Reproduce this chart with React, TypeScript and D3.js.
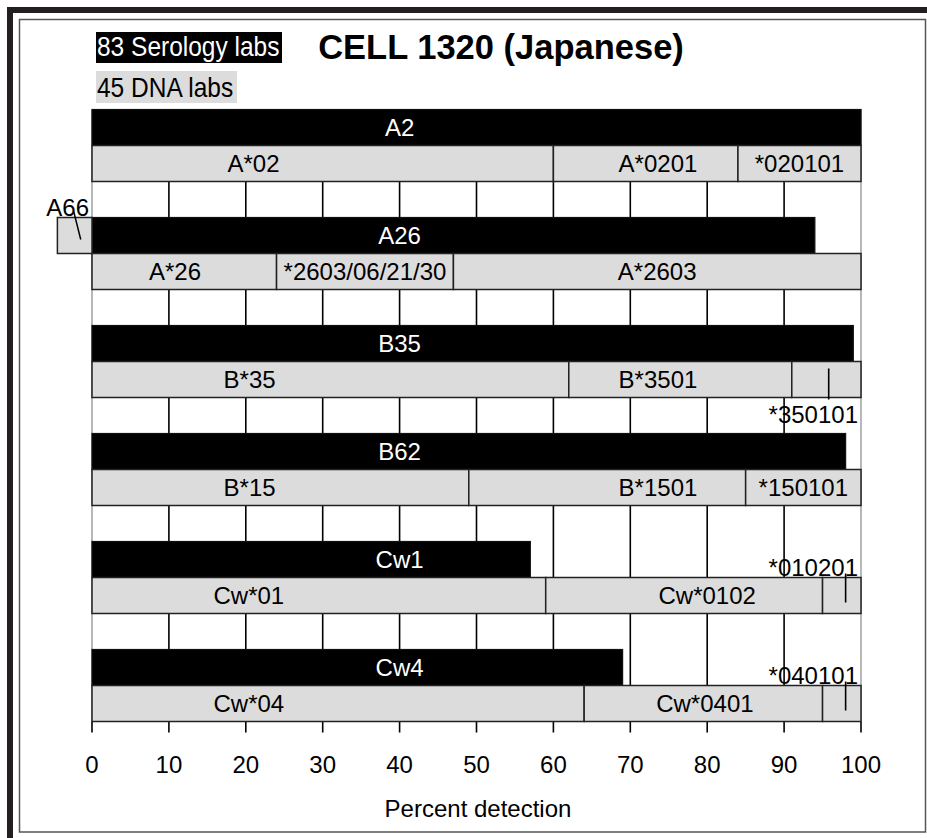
import React from "react";
import * as d3 from "d3";

// ---- data ----
const serologyNames = ["A2", "A26", "B35", "B62", "Cw1", "Cw4"];
const serologyPct = [100, 94, 99, 98, 57, 69];

const dnaLabels = [
  ["A*02", "A*0201", "*020101"],
  ["A*26", "*2603/06/21/30", "A*2603"],
  ["B*35", "B*3501", "*350101"],
  ["B*15", "B*1501", "*150101"],
  ["Cw*01", "Cw*0102", "*010201"],
  ["Cw*04", "Cw*0401", "*040101"],
];
const dnaPct = [
  [60, 24, 16],
  [24, 23, 53],
  [62, 29, 9],
  [49, 36, 15],
  [59, 36, 5],
  [64, 31, 5],
];

// extra serology result shown to the left (A66 on the A26 row)
const extraName = "A66";
const extraPct = 4.5;

const xTicks = [0, 10, 20, 30, 40, 50, 60, 70, 80, 90, 100];

// label anchor positions (in percent units) as placed in the original chart
const serologyLabelAt = [40, 40, 40, 40, 40, 40];
const dnaLabelAt: (number | null)[][] = [
  [21, 73.6, null],
  [10.8, null, null],
  [20.5, 73.6, null],
  [20.5, 73.6, null],
  [20.4, 80, null],
  [20.4, 79.7, null],
];
// callouts for tiny segments: placement and leader position (percent)
const calloutPlace: (string | null)[] = [null, null, "below", null, "above", "above"];
const calloutLeaderAt = [0, 0, 95.8, 0, 98, 98];

const FONT = "'Liberation Sans', Arial, Helvetica, sans-serif";

export default function App() {
  const W = 927;
  const H = 838;
  const x = d3.scaleLinear().domain([0, 100]).range([92, 861]);
  const y = d3
    .scaleBand<string>()
    .domain(serologyNames)
    .range([109.5, 721.5])
    .paddingInner(1 / 3)
    .paddingOuter(0);
  const bh = y.bandwidth() / 2;
  const fs = 24;
  const plotTop = 109.5;
  const plotBottom = 721.5;

  return (
    <svg
      width={W}
      height={H}
      style={{ position: "absolute", left: 0, top: 0, background: "#fff" }}
      fontFamily={FONT}
    >
      <rect x={0} y={0} width={W} height={H} fill="#fff" />
      {/* frame */}
      <path d={`M10,${H + 10} L10,10 L${W + 10},10`} fill="none" stroke="#231f20" strokeWidth={6} />
      <rect x={19.5} y={19.5} width={906} height={812.5} fill="none" stroke="#555" strokeWidth={1.5} />

      {/* legend */}
      <rect x={96} y={32} width={186} height={31} fill="#000" />
      <text transform="translate(97,55.5) scale(1,1.15)" fontSize={24.5} fill="#fff">83 Serology labs</text>
      <rect x={96} y={71} width={141} height={32} fill="#dcdcdc" />
      <text transform="translate(97,96.5) scale(1,1.15)" fontSize={24.5} fill="#000">45 DNA labs</text>

      {/* title */}
      <text x={501} y={59} fontSize={34.5} fontWeight="bold" textAnchor="middle" fill="#000">
        CELL 1320 (Japanese)
      </text>

      {/* grid */}
      {xTicks.map((t) => (
        <line
          key={"g" + t}
          x1={x(t)}
          x2={x(t)}
          y1={plotTop}
          y2={plotBottom}
          stroke={t === 0 || t === 100 ? "#888" : "#000"}
          strokeWidth={t === 0 || t === 100 ? 1.2 : 1.6}
        />
      ))}
      {/* ticks */}
      {xTicks.map((t) => (
        <line key={"t" + t} x1={x(t)} x2={x(t)} y1={plotBottom} y2={plotBottom + 11} stroke="#000" strokeWidth={1.6} />
      ))}
      {xTicks.map((t) => (
        <text key={"tl" + t} x={x(t)} y={773} fontSize={fs} textAnchor="middle" fill="#000">
          {t}
        </text>
      ))}
      <text x={478} y={817} fontSize={fs} textAnchor="middle" fill="#000">
        Percent detection
      </text>

      {/* bars */}
      {serologyNames.map((name, i) => {
        const y0 = y(name)!;
        const y1 = y0 + bh;
        let acc = 0;
        const segs = dnaPct[i].map((v, j) => {
          const s = { start: acc, end: acc + v, label: dnaLabels[i][j], at: dnaLabelAt[i][j] };
          acc += v;
          return s;
        });
        return (
          <g key={name}>
            <rect x={x(0)} y={y0} width={x(serologyPct[i]) - x(0)} height={bh} fill="#000" stroke="#111" strokeWidth={1.2} />
            <text x={x(serologyLabelAt[i])} y={y0 + bh / 2 + 8.6} fontSize={fs} textAnchor="middle" fill="#fff">
              {name}
            </text>
            {segs.map((s, j) => (
              <rect
                key={"s" + j}
                x={x(s.start)}
                y={y1}
                width={x(s.end) - x(s.start)}
                height={bh}
                fill="#dcdcdc"
                stroke="#222"
                strokeWidth={1.5}
              />
            ))}
            {segs.map((s, j) => {
              const isCallout = j === segs.length - 1 && calloutPlace[i];
              if (isCallout) {
                const above = calloutPlace[i] === "above";
                const lx = x(calloutLeaderAt[i]);
                const ty = above ? y1 - 2 : y1 + bh + 25;
                return (
                  <g key={"l" + j}>
                    <line
                      x1={lx}
                      x2={lx}
                      y1={above ? y1 - 4 : y1 + 7}
                      y2={above ? y1 + bh - 11 : y1 + bh + 2}
                      stroke="#000"
                      strokeWidth={1.6}
                    />
                    <text x={x(100) - 3} y={ty} fontSize={fs} textAnchor="end" fill="#000">
                      {s.label}
                    </text>
                  </g>
                );
              }
              const cx = s.at != null ? x(s.at) : (x(s.start) + x(s.end)) / 2;
              return (
                <text key={"l" + j} x={cx} y={y1 + bh / 2 + 8.6} fontSize={fs} textAnchor="middle" fill="#000">
                  {s.label}
                </text>
              );
            })}
            {i === 1 && (
              <g>
                <rect x={x(-extraPct)} y={y0} width={x(0) - x(-extraPct)} height={bh} fill="#dcdcdc" stroke="#222" strokeWidth={1.5} />
                <text x={x(-extraPct / 2) - 7} y={y0 - 2} fontSize={fs} textAnchor="middle" fill="#000">
                  {extraName}
                </text>
                <line x1={x(-extraPct / 2) - 1} y1={y0 - 6} x2={x(-extraPct / 2) + 6} y2={y0 + 22} stroke="#000" strokeWidth={1.5} />
              </g>
            )}
          </g>
        );
      })}
    </svg>
  );
}
